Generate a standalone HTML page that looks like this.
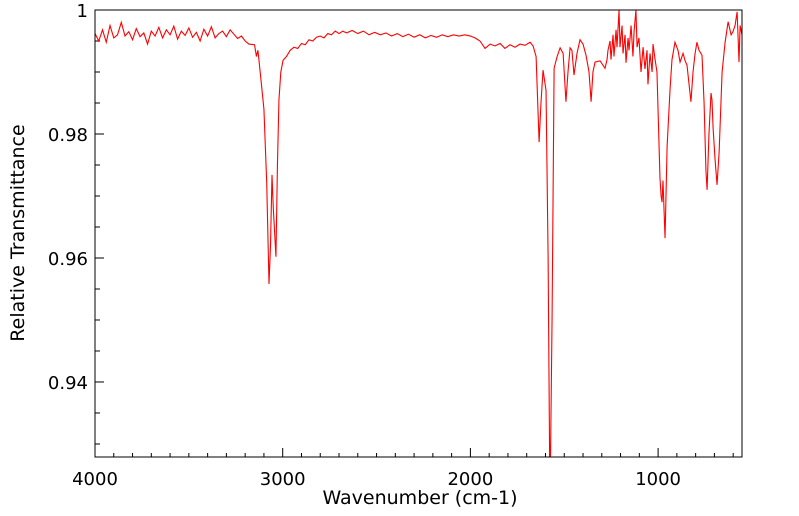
<!DOCTYPE html>
<html><head><meta charset="utf-8"><style>
html,body{margin:0;padding:0;background:#fff;}
svg{display:block;font-family:"DejaVu Sans","Liberation Sans",sans-serif;}
</style></head><body>
<svg id="chart" width="799" height="516">
<defs><clipPath id="plotclip"><rect x="95" y="10" width="647" height="447"/></clipPath></defs>
<g id="axes"></g>
<path id="series" fill="none" stroke="#ff0000" stroke-width="1.1" clip-path="url(#plotclip)"/>
<rect x="95" y="10" width="647" height="447" fill="none" stroke="#000" stroke-width="1"/>
<text x="420" y="504" text-anchor="middle" font-size="19">Wavenumber (cm-1)</text>
<text transform="translate(24,233) rotate(-90)" text-anchor="middle" font-size="19">Relative Transmittance</text>
</svg>
<script>
const wavenumbers = [4000,3980,3960,3940,3920,3900,3880,3860,3840,3820,3800,3780,3760,3740,3720,3700,3680,3660,3640,3620,3600,3580,3560,3540,3520,3500,3480,3460,3440,3420,3400,3380,3360,3340,3320,3300,3280,3260,3240,3220,3200,3180,
3150,3140,3132,3120,3100,3085,3073,3065,3057,3050,3036,3028,3020,3010,2998,2980,2960,2940,2920,2900,2880,2860,2840,2820,2800,2780,2760,2740,2720,2700,2680,
2660,2630,2600,2570,2540,2510,2480,2450,2420,2390,2360,2330,2300,2270,2240,2210,2180,2150,2120,2090,2060,2030,2000,
1975,1949,1922,1895,1869,1842,1816,1789,1762,1736,1709,1682,1666,1650,1634,1624,1613,1597,1586,1576,1565,1554,1538,1522,1506,1491,1480,1469,1459,1448,1432,1416,1400,1384,1368,1357,1347,1336,1309,1283,1272,
1267,1256,1251,1240,1235,1224,1219,1208,1203,1192,1187,1176,1171,1160,1155,1144,1134,1128,1118,1112,1102,1091,1080,1070,1059,1054,1043,1032,1027,1016,1006,
990,984,979,974,963,952,936,926,910,894,883,867,856,846,835,825,814,803,793,782,766,755,745,739,729,718,713,707,697,686,675,659,643,627,611,601,590,579,569,563,553];
const transmittance = [0.9962,0.9950,0.9968,0.9948,0.9975,0.9955,0.9960,0.9980,0.9958,0.9965,0.9952,0.9970,0.9957,0.9963,0.9945,0.9966,0.9958,0.9972,0.9955,0.9968,0.9960,0.9974,0.9953,0.9966,0.9959,0.9971,0.9956,0.9964,0.9950,0.9969,0.9958,0.9973,0.9955,0.9962,0.9966,0.9957,0.9968,0.9961,0.9954,0.9958,0.9950,0.9945,
0.9944,0.9925,0.9935,0.9900,0.9840,0.9720,0.9558,0.9620,0.9734,0.9680,0.9602,0.9750,0.9855,0.9900,0.9919,0.9925,0.9935,0.9940,0.9938,0.9946,0.9944,0.9952,0.9950,0.9956,0.9958,0.9955,0.9962,0.9960,0.9966,0.9962,0.9966,
0.9963,0.9967,0.9962,0.9966,0.9960,0.9964,0.9960,0.9963,0.9958,0.9962,0.9957,0.9961,0.9956,0.9960,0.9955,0.9959,0.9956,0.9960,0.9957,0.9960,0.9958,0.9960,0.9958,
0.9955,0.9950,0.9938,0.9945,0.9942,0.9946,0.9938,0.9944,0.9940,0.9945,0.9943,0.9948,0.9942,0.9925,0.9787,0.9850,0.9903,0.9870,0.9600,0.9200,0.9500,0.9906,0.9925,0.9939,0.9930,0.9852,0.9900,0.9939,0.9935,0.9895,0.9930,0.9952,0.9945,0.9927,0.9900,0.9852,0.9900,0.9916,0.9918,0.9906,0.9920,
0.9935,0.9950,0.9920,0.9960,0.9925,0.9968,0.9940,1.0000,0.9940,0.9975,0.9930,0.9960,0.9915,0.9955,0.9935,0.9975,0.9925,0.9965,1.0000,0.9940,0.9955,0.9900,0.9940,0.9905,0.9935,0.9880,0.9930,0.9900,0.9945,0.9920,0.9900,
0.9729,0.9700,0.9690,0.9725,0.9632,0.9780,0.9874,0.9920,0.9948,0.9935,0.9916,0.9930,0.9918,0.9911,0.9880,0.9852,0.9900,0.9930,0.9948,0.9935,0.9927,0.9850,0.9740,0.9710,0.9800,0.9866,0.9855,0.9810,0.9761,0.9718,0.9770,0.9900,0.9948,0.9981,0.9960,0.9965,0.9975,0.9997,0.9916,0.9975,0.9960];
const xTickLabels = [4000,3000,2000,1000];
const yTickLabels = [1,0.98,0.96,0.94];

const L=95,R=742,T=10,B=457;
const xMin=4000,xMax=553,yMin=0.9279,yMax=1.0;
function xs(w){return L+(xMin-w)/(xMin-xMax)*(R-L);}
function ys(v){return B-(v-yMin)/(yMax-yMin)*(B-T);}
const NS='http://www.w3.org/2000/svg';
const axes=document.getElementById('axes');
function line(x1,y1,x2,y2,name){const l=document.createElementNS(NS,'line');
l.setAttribute('x1',x1);l.setAttribute('y1',y1);l.setAttribute('x2',x2);l.setAttribute('y2',y2);
l.setAttribute('stroke','#000');l.setAttribute('stroke-width','1');


axes.appendChild(l);}
function text(x,y,s,anchor,name){const t=document.createElementNS(NS,'text');
t.setAttribute('x',x);t.setAttribute('y',y);t.setAttribute('text-anchor',anchor);t.setAttribute('font-size','18');t.textContent=s;


axes.appendChild(t);}
for(let w=4000;w>=xMax;w-=100){const x=xs(w);const major=w%1000===0;line(x,B,x,B-(major?9:4),major?'x-major-tick':'x-minor-tick');}
xTickLabels.forEach(w=>text(xs(w),485,String(w),'middle','x-tick-label'));
for(let i=0;;i++){const v=1-i*0.005;if(v<yMin)break;const y=ys(v);const major=(i%4===0);line(L,y,L+(major?9:5),y,major?'y-major-tick':'y-minor-tick');}
yTickLabels.forEach(v=>text(88,ys(v)+7,String(v),'end','y-tick-label'));
let d='';wavenumbers.forEach((w,i)=>{d+=(i?'L':'M')+xs(w).toFixed(2)+','+ys(transmittance[i]).toFixed(2);});
document.getElementById('series').setAttribute('d',d);
</script>
</body></html>
